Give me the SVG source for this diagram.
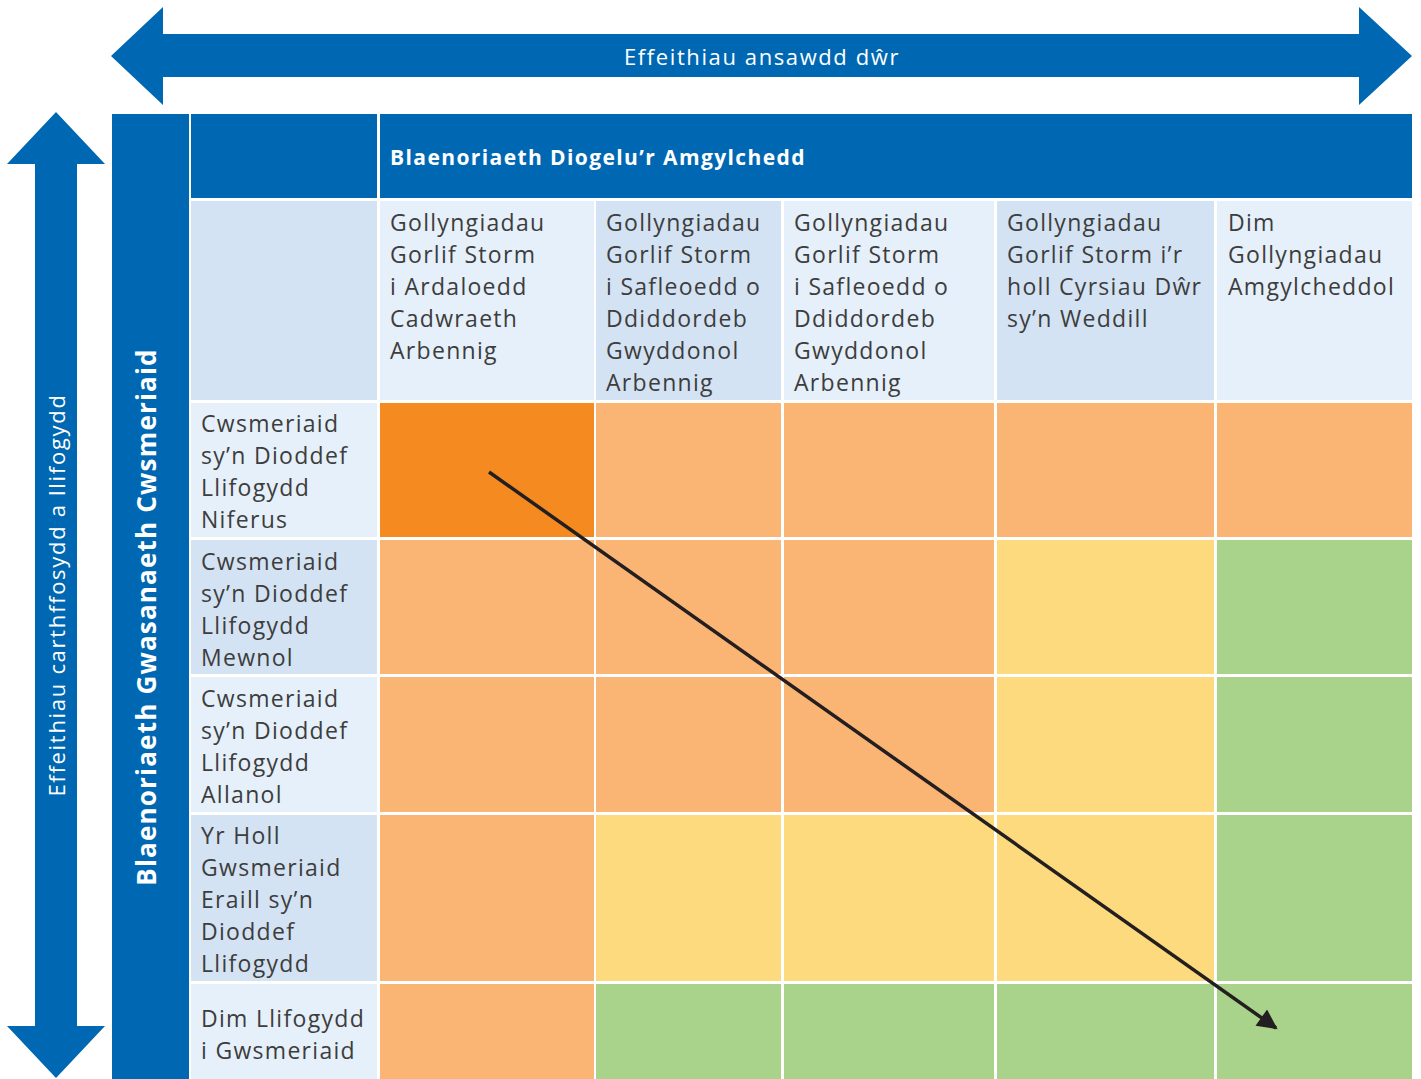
<svg xmlns="http://www.w3.org/2000/svg" width="1421" height="1079" viewBox="0 0 1421 1079">
<style>
.blue{fill:#0068B3}
.l1{fill:#E5F0FA}
.l2{fill:#D3E3F3}
.do{fill:#F58B20}
.lo{fill:#FAB473}
.ye{fill:#FDDA7E}
.gr{fill:#A9D38A}
.t{font-family:"Open Sans","Liberation Sans",sans-serif;font-size:23px;fill:#3D3D3D;letter-spacing:1.3px}
.w{font-family:"Open Sans","Liberation Sans",sans-serif;fill:#FFFFFF}
</style>
<defs>
<marker id="ah" viewBox="0 0 10 10" refX="9" refY="5" markerWidth="22" markerHeight="20" markerUnits="userSpaceOnUse" orient="auto"><path d="M0,0 L10,5 L0,10 z" fill="#231F20"/></marker>
</defs>
<rect width="1421" height="1079" fill="#FFFFFF"/>
<g id="arrow-top">
<polygon class="blue" points="111,56 163,7 163,34 1359,34 1359,7 1412,56 1359,105 1359,77 163,77 163,105"/>
<text class="w" x="762" y="65" font-size="22" text-anchor="middle" letter-spacing="1.6">Effeithiau ansawdd dŵr</text>
</g>
<g id="arrow-left">
<polygon class="blue" points="56,112 105,164 77,164 77,1026 105,1026 56,1078 7,1026 35,1026 35,164 7,164"/>
<text class="w" transform="translate(65,595) rotate(-90)" font-size="22" text-anchor="middle" letter-spacing="1.7">Effeithiau carthffosydd a llifogydd</text>
</g>
<g id="band-left">
<rect class="blue" x="112" y="114" width="77" height="965"/>
<text class="w" transform="translate(156,617) rotate(-90)" font-size="26" font-weight="bold" text-anchor="middle" letter-spacing="1.2">Blaenoriaeth Gwasanaeth Cwsmeriaid</text>
</g>
<g id="header">
<rect class="blue" x="191" y="114" width="186" height="84"/>
<rect class="blue" x="380" y="114" width="1032" height="84"/>
<text class="w" x="390" y="165" font-size="21" font-weight="bold" letter-spacing="1.4">Blaenoriaeth Diogelu’r Amgylchedd</text>
</g>
<g id="col-labels">
<rect class="l2" x="191" y="201" width="186" height="199"/>
<rect class="l1" x="380" y="201" width="214" height="199"/>
<rect class="l2" x="596" y="201" width="185" height="199"/>
<rect class="l1" x="784" y="201" width="210" height="199"/>
<rect class="l2" x="997" y="201" width="217" height="199"/>
<rect class="l1" x="1217" y="201" width="195" height="199"/>
<text class="t"><tspan x="390" y="231">Gollyngiadau</tspan><tspan x="390" y="263">Gorlif Storm</tspan><tspan x="390" y="295">i Ardaloedd</tspan><tspan x="390" y="327">Cadwraeth</tspan><tspan x="390" y="359">Arbennig</tspan></text>
<text class="t"><tspan x="606" y="231">Gollyngiadau</tspan><tspan x="606" y="263">Gorlif Storm</tspan><tspan x="606" y="295">i Safleoedd o</tspan><tspan x="606" y="327">Ddiddordeb</tspan><tspan x="606" y="359">Gwyddonol</tspan><tspan x="606" y="391">Arbennig</tspan></text>
<text class="t"><tspan x="794" y="231">Gollyngiadau</tspan><tspan x="794" y="263">Gorlif Storm</tspan><tspan x="794" y="295">i Safleoedd o</tspan><tspan x="794" y="327">Ddiddordeb</tspan><tspan x="794" y="359">Gwyddonol</tspan><tspan x="794" y="391">Arbennig</tspan></text>
<text class="t"><tspan x="1007" y="231">Gollyngiadau</tspan><tspan x="1007" y="263">Gorlif Storm i’r</tspan><tspan x="1007" y="295">holl Cyrsiau Dŵr</tspan><tspan x="1007" y="327">sy’n Weddill</tspan></text>
<text class="t"><tspan x="1228" y="231">Dim</tspan><tspan x="1228" y="263">Gollyngiadau</tspan><tspan x="1228" y="295">Amgylcheddol</tspan></text>
</g>
<g id="row-labels">
<rect class="l1" x="191" y="403" width="186" height="134"/>
<rect class="l2" x="191" y="540" width="186" height="134"/>
<rect class="l1" x="191" y="677" width="186" height="135"/>
<rect class="l2" x="191" y="815" width="186" height="166"/>
<rect class="l1" x="191" y="984" width="186" height="95"/>
<text class="t"><tspan x="201" y="432">Cwsmeriaid</tspan><tspan x="201" y="464">sy’n Dioddef</tspan><tspan x="201" y="496">Llifogydd</tspan><tspan x="201" y="528">Niferus</tspan></text>
<text class="t"><tspan x="201" y="570">Cwsmeriaid</tspan><tspan x="201" y="602">sy’n Dioddef</tspan><tspan x="201" y="634">Llifogydd</tspan><tspan x="201" y="666">Mewnol</tspan></text>
<text class="t"><tspan x="201" y="707">Cwsmeriaid</tspan><tspan x="201" y="739">sy’n Dioddef</tspan><tspan x="201" y="771">Llifogydd</tspan><tspan x="201" y="803">Allanol</tspan></text>
<text class="t"><tspan x="201" y="844">Yr Holl</tspan><tspan x="201" y="876">Gwsmeriaid</tspan><tspan x="201" y="908">Eraill sy’n</tspan><tspan x="201" y="940">Dioddef</tspan><tspan x="201" y="972">Llifogydd</tspan></text>
<text class="t"><tspan x="201" y="1027">Dim Llifogydd</tspan><tspan x="201" y="1059">i Gwsmeriaid</tspan></text>
</g>
<g id="matrix">
<rect class="do" x="380" y="403" width="214" height="134"/>
<rect class="lo" x="596" y="403" width="185" height="134"/>
<rect class="lo" x="784" y="403" width="210" height="134"/>
<rect class="lo" x="997" y="403" width="217" height="134"/>
<rect class="lo" x="1217" y="403" width="195" height="134"/>
<rect class="lo" x="380" y="540" width="214" height="134"/>
<rect class="lo" x="596" y="540" width="185" height="134"/>
<rect class="lo" x="784" y="540" width="210" height="134"/>
<rect class="ye" x="997" y="540" width="217" height="134"/>
<rect class="gr" x="1217" y="540" width="195" height="134"/>
<rect class="lo" x="380" y="677" width="214" height="135"/>
<rect class="lo" x="596" y="677" width="185" height="135"/>
<rect class="lo" x="784" y="677" width="210" height="135"/>
<rect class="ye" x="997" y="677" width="217" height="135"/>
<rect class="gr" x="1217" y="677" width="195" height="135"/>
<rect class="lo" x="380" y="815" width="214" height="166"/>
<rect class="ye" x="596" y="815" width="185" height="166"/>
<rect class="ye" x="784" y="815" width="210" height="166"/>
<rect class="ye" x="997" y="815" width="217" height="166"/>
<rect class="gr" x="1217" y="815" width="195" height="166"/>
<rect class="lo" x="380" y="984" width="214" height="95"/>
<rect class="gr" x="596" y="984" width="185" height="95"/>
<rect class="gr" x="784" y="984" width="210" height="95"/>
<rect class="gr" x="997" y="984" width="217" height="95"/>
<rect class="gr" x="1217" y="984" width="195" height="95"/>
</g>
<g id="connectors">
<line x1="489" y1="472" x2="1276" y2="1028" stroke="#231F20" stroke-width="3.5" marker-end="url(#ah)"/>
</g>
</svg>
